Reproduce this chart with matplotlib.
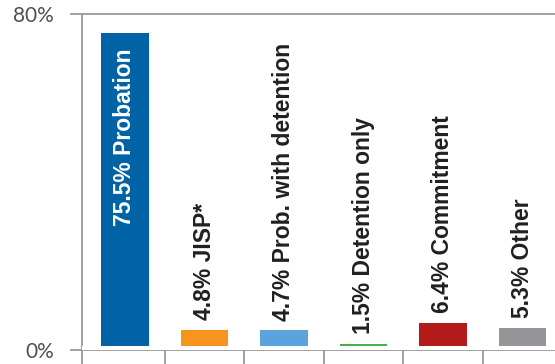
import matplotlib
matplotlib.use("Agg")
import matplotlib.pyplot as plt

# data
categories = ["Probation", "JISP*", "Prob. with detention", "Detention only", "Commitment", "Other"]
values = [75.5, 4.8, 4.7, 1.5, 6.4, 5.3]
colors = ["#0063a6", "#f7941d", "#5ba3dc", "#4cae4c", "#b31b1b", "#939598"]
ytick_vals = [0, 80]
ytick_labels = ["0%", "80%"]

grey = "#9a9a9a"

fig = plt.figure(figsize=(5.55, 3.64), dpi=100)
ax = fig.add_axes([82 / 555, 14 / 364, 1 - 82 / 555, 336 / 364])

x = list(range(len(values)))
ax.bar(x, values, width=0.6, color=colors, zorder=2)
# small white gap between bars and baseline, like the original
ax.axhspan(0, 0.95, color="white", zorder=3, lw=0)

ax.set_xlim(-0.54, 5.41)
ax.set_ylim(0, 80)

for i, (v, name) in enumerate(zip(values, categories)):
    label = f"{v}% {name}"
    if i == 0:
        ax.annotate(label, (i, v), xytext=(0, -11), textcoords="offset points",
                    rotation=90, ha="center", va="top", color="white",
                    fontsize=16.5, fontweight="bold", family="Liberation Sans", zorder=4)
    else:
        ax.annotate(label, (i, v), xytext=(0, 7), textcoords="offset points",
                    rotation=90, ha="center", va="bottom", color="#231f20",
                    fontsize=16.5, fontweight="bold", family="Liberation Sans", zorder=4)

# spines
for side in ["left", "top", "bottom"]:
    ax.spines[side].set_color(grey)
    ax.spines[side].set_linewidth(1.3)
ax.spines["right"].set_visible(False)

ax.set_yticks(ytick_vals)
ax.set_yticklabels(ytick_labels, fontsize=15, color="#505050", family="Lato")
ax.tick_params(axis="y", direction="out", length=9, width=1.3, color=grey, pad=11)

ax.set_xticks([-0.54, 0.5, 1.5, 2.5, 3.5, 4.5])
ax.set_xticklabels([])
ax.tick_params(axis="x", direction="out", length=10, width=1.3, color=grey)

fig.savefig("out.png", dpi=100)
